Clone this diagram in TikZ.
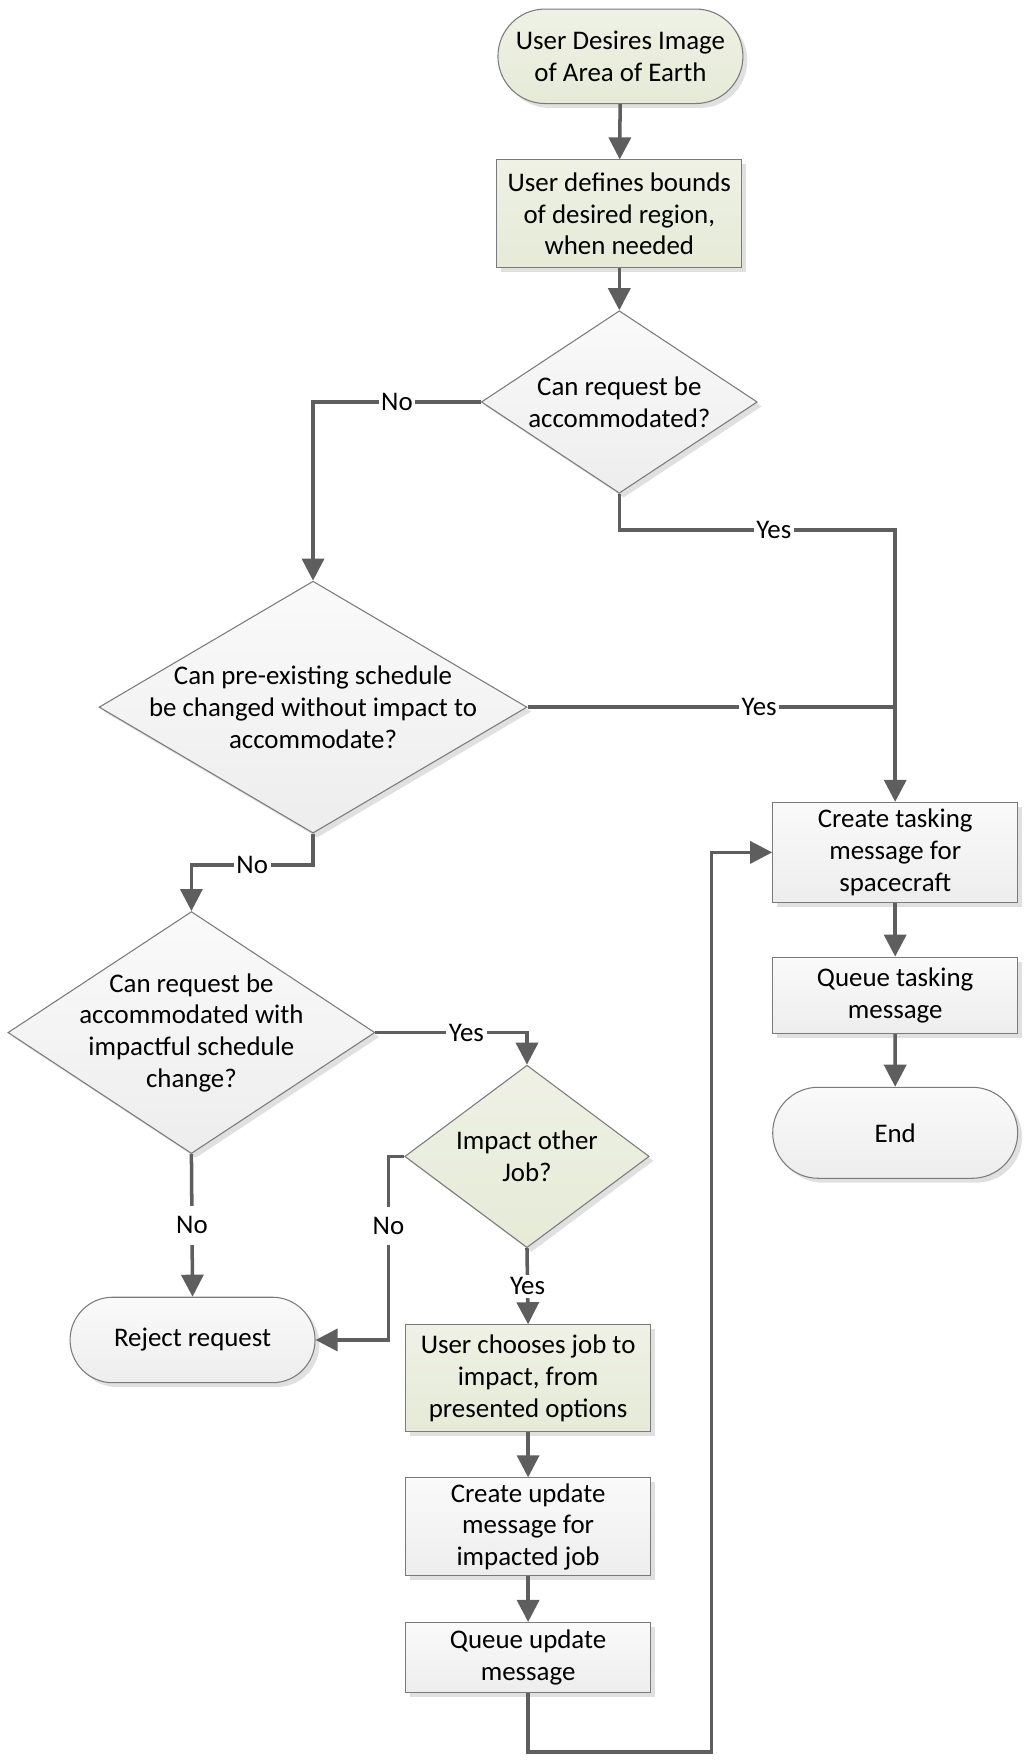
\documentclass[tikz,border=0pt]{standalone}
\usepackage{fontspec}
\setmainfont{Carlito}
\usetikzlibrary{arrows.meta,shapes.geometric,shapes.misc,shadows}
\definecolor{linegray}{HTML}{5E5E5E}
\definecolor{edgegray}{HTML}{7A7A7A}
\definecolor{greenfill}{HTML}{E6EAD7}
\definecolor{greentop}{HTML}{EEF1E4}
\definecolor{grayfill}{HTML}{EDEDED}
\definecolor{graytop}{HTML}{FAFAFA}
\tikzset{
	base/.style={draw=edgegray,line width=0.6pt,align=center,inner sep=0pt,
		drop shadow={shadow xshift=2.5pt,shadow yshift=-2.5pt,fill=black!12,opacity=1}},
	greenbox/.style={top color=greentop,bottom color=greenfill},
	graybox/.style={top color=graytop,bottom color=grayfill},
	terminal/.style={base,rounded rectangle,minimum width=4.9cm},
	process/.style={base,rectangle,minimum width=4.9cm},
	decision/.style={base,diamond},
	flow/.style={draw=linegray,line width=2pt,-{Triangle[width=0.44cm,length=0.44cm]}},
	joinline/.style={draw=linegray,line width=2pt},
	lbl/.style={fill=white,inner sep=1.5pt,text=black}
}
\begin{document}
\fontsize{15.3}{18}\selectfont
\begin{tikzpicture}[x=0.02252cm,y=-0.02252cm]
	\useasboundingbox (0,0) rectangle (909.4,1565.7);
	% right column
	\node[terminal,greenbox,minimum height=1.89cm] (start) at (551,50) {User Desires Image\\of Area of Earth};
	\node[process,greenbox,minimum height=2.16cm] (bounds) at (550,190) {User defines bounds\\of desired region,\\when needed};
	\node[decision,graybox,minimum width=5.52cm,minimum height=3.65cm,
		label={[align=center]center:Can request be\\accommodated?}] (q1) at (550,357) {};
	\node[process,graybox,minimum height=2.0cm] (task) at (795,757) {Create tasking\\message for\\spacecraft};
	\node[process,graybox,minimum height=1.53cm] (queuet) at (795,884) {Queue tasking\\message};
	\node[terminal,graybox,minimum height=1.82cm] (endt) at (795,1006) {End};
	% left column
	\node[decision,graybox,minimum width=8.56cm,minimum height=5.04cm,
		label={[align=center]center:Can pre-existing schedule\\be changed without impact to\\accommodate?}] (q2) at (278,628) {};
	\node[decision,graybox,minimum width=7.34cm,minimum height=4.84cm,
		label={[align=center]center:Can request be\\accommodated with\\impactful schedule\\change?}] (q3) at (170,917) {};
	\node[decision,greenbox,minimum width=4.89cm,minimum height=3.65cm,
		label={[align=center]center:Impact other\\Job?}] (q4) at (468,1027) {};
	\node[terminal,graybox,minimum height=1.71cm] (reject) at (171,1190) {Reject request};
	\node[process,greenbox,minimum height=2.14cm] (choose) at (469,1224) {User chooses job to\\impact, from\\presented options};
	\node[process,graybox,minimum height=1.96cm] (update) at (469,1356) {Create update\\message for\\impacted job};
	\node[process,graybox,minimum height=1.40cm] (queueu) at (469,1472) {Queue update\\message};
	\coordinate (loop) at (632,1556);

	\draw[flow] (start) -- (bounds);
	\draw[flow] (bounds) -- (q1);
	\draw[flow] (q1.west) -- node[lbl]{No} (q2.north |- q1.west) -- (q2.north);
	\draw[flow] (q1.south) -- ++(0,32) -| node[lbl,pos=0.28]{Yes} (task.north);
	\draw[joinline] (q2.east) -- node[lbl,pos=0.63]{Yes} (task.north |- q2.east);
	\draw[flow] (q2.south) -- ++(0,28) -| node[lbl,pos=0.25]{No} (q3.north);
	\draw[flow] (q3.east) -| node[lbl,pos=0.3]{Yes} (q4.north);
	\draw[flow] (q3.south) -- node[lbl,inner ysep=6pt]{No} (reject.north);
	\draw[flow] (q4.west) -- ++(-14,0) |- node[lbl,pos=0.19,inner ysep=6pt]{No} (reject.east);
	\draw[flow] (q4.south) -- node[lbl]{Yes} (choose.north);
	\draw[flow] (choose) -- (update);
	\draw[flow] (update) -- (queueu);
	\draw[flow] (queueu.south) |- (loop) |- (task.west);
	\draw[flow] (task) -- (queuet);
	\draw[flow] (queuet) -- (endt);
\end{tikzpicture}
\end{document}
